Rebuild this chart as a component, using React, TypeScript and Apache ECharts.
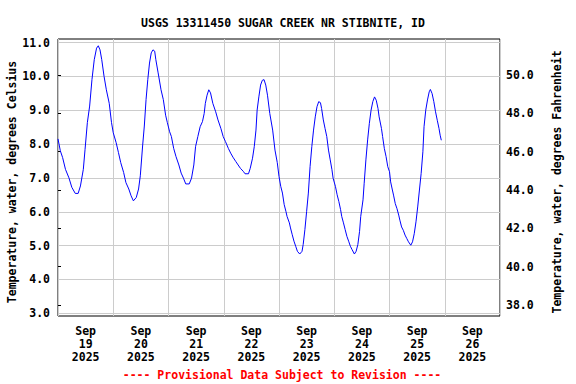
import React, { useEffect, useRef } from "react";
import * as echarts from "echarts";

const chartTitle = "USGS 13311450 SUGAR CREEK NR STIBNITE, ID";
const footerText = "---- Provisional Data Subject to Revision ----";
const leftAxisName = "Temperature, water, degrees Celsius";
const rightAxisName = "Temperature, water, degrees Fahrenheit";
const dayLabels = ["19", "20", "21", "22", "23", "24", "25", "26"];
const monthLabel = "Sep";
const yearLabel = "2025";
const celsiusTicks = [3, 11, 1];
const fahrenheitTicks = [38, 50, 2];

// hours of the day and water temperature (deg C), one pair of arrays per day
const sep19Hours = [0, 1, 2, 3.25, 4.75, 6, 7.5, 8.75, 9.75, 11, 11.75, 12.75, 13.75, 14.75, 15.75, 16.75, 17.5, 18.25, 19, 20, 21, 22.25, 23.25];
const sep19Temps = [8.15, 7.8, 7.6, 7.25, 7.0, 6.72, 6.54, 6.54, 6.76, 7.25, 7.84, 8.63, 9.12, 9.9, 10.49, 10.83, 10.9, 10.78, 10.49, 10.0, 9.6, 9.2, 8.63];
const sep20Hours = [0, 1.25, 2.25, 3.25, 4.5, 5.5, 6.75, 7.75, 8.75, 10, 11, 11.75, 12.75, 13.5, 14.25, 15, 15.75, 16.5, 17.25, 18, 18.5, 19.5, 20.75, 21.75, 22.75, 23.5];
const sep20Temps = [8.33, 8.04, 7.75, 7.45, 7.16, 6.86, 6.67, 6.47, 6.32, 6.42, 6.67, 7.06, 7.94, 8.53, 9.31, 9.9, 10.39, 10.69, 10.78, 10.74, 10.49, 10.1, 9.6, 9.31, 8.85, 8.63];
const sep21Hours = [0.5, 1.25, 2.25, 3.25, 4.5, 5.5, 6.5, 7.5, 9, 10, 11, 11.75, 12.75, 13.75, 14.75, 15.5, 16, 16.75, 17.5, 18.25, 19.25, 20.5, 21.5, 22.75, 23.75];
const sep21Temps = [8.36, 8.22, 7.87, 7.63, 7.38, 7.14, 6.99, 6.82, 6.82, 6.99, 7.38, 7.92, 8.22, 8.51, 8.66, 8.9, 9.2, 9.44, 9.6, 9.51, 9.2, 8.95, 8.71, 8.46, 8.22];
const sep22Hours = [0.75, 2, 3, 4, 5.25, 6.25, 7.25, 8.5, 9.25, 10.75, 11.5, 12.5, 13.25, 14, 14.5, 15.25, 16, 16.75, 17.5, 18.25, 19, 20, 21.25, 22.25, 23.25];
const sep22Temps = [8.07, 7.87, 7.73, 7.61, 7.48, 7.38, 7.28, 7.19, 7.12, 7.12, 7.28, 7.58, 7.92, 8.41, 9.0, 9.39, 9.74, 9.88, 9.9, 9.74, 9.44, 8.9, 8.41, 7.82, 7.45];
const sep23Hours = [0, 0.75, 1.5, 2.25, 3, 3.5, 4.5, 5, 5.75, 6.5, 7.25, 8, 9, 10, 10.5, 11.25, 12, 12.75, 13.5, 14.25, 15, 15.75, 16.5, 17.25, 18, 18.5, 19.25, 20, 20.75, 21.5, 22.25, 23, 23.5];
const sep23Temps = [7.04, 6.75, 6.55, 6.21, 6.01, 5.86, 5.67, 5.52, 5.32, 5.13, 4.98, 4.83, 4.75, 4.83, 5.03, 5.47, 6.01, 6.55, 7.33, 7.92, 8.41, 8.8, 9.1, 9.25, 9.22, 9.05, 8.71, 8.46, 8.22, 7.82, 7.53, 7.24, 6.99];
const sep24Hours = [0.5, 1.25, 2, 2.75, 3.25, 4, 4.75, 5.5, 6.25, 7, 7.75, 8.75, 9.5, 10.25, 11, 11.5, 12.5, 13, 13.75, 14.5, 15.25, 16, 16.75, 17.5, 18.25, 19, 19.5, 20.5, 21, 21.75, 22.5, 23.25];
const sep24Temps = [6.75, 6.5, 6.3, 6.06, 5.86, 5.67, 5.47, 5.27, 5.13, 4.98, 4.88, 4.75, 4.83, 5.03, 5.42, 5.86, 6.35, 6.84, 7.53, 8.12, 8.61, 9.0, 9.25, 9.39, 9.29, 9.05, 8.8, 8.46, 8.22, 7.87, 7.63, 7.33];
const sep25Hours = [0, 0.5, 1.25, 1.75, 2.5, 3.25, 4, 4.5, 5.25, 6, 6.75, 7.5, 8.25, 9.25, 10, 10.75, 11.5, 12.25, 13, 13.75, 14.5, 15, 15.75, 16.5, 17.25, 17.75, 18.5, 19.25, 20, 20.75, 21.5, 22, 22.5];
const sep25Temps = [7.18, 6.88, 6.64, 6.49, 6.24, 6.09, 5.9, 5.75, 5.55, 5.45, 5.31, 5.21, 5.11, 5.01, 5.11, 5.35, 5.7, 6.14, 6.64, 7.13, 7.77, 8.51, 9.0, 9.3, 9.54, 9.61, 9.49, 9.25, 8.95, 8.7, 8.46, 8.26, 8.11];

const dayHours = [sep19Hours, sep20Hours, sep21Hours, sep22Hours, sep23Hours, sep24Hours, sep25Hours];
const dayTemps = [sep19Temps, sep20Temps, sep21Temps, sep22Temps, sep23Temps, sep24Temps, sep25Temps];

const FONT = "'DejaVu Sans Mono', monospace";
const FS = 11.5;
const GRID_COLOR = "#cccccc";

export default function App() {
  const ref = useRef<HTMLDivElement>(null);

  useEffect(() => {
    if (!ref.current) return;
    const chart = echarts.init(ref.current, undefined, { renderer: "svg" });

    const lineData: [number, number][] = [];
    dayHours.forEach((hours, d) => {
      hours.forEach((h, i) => lineData.push([d * 24 + h, dayTemps[d][i]]));
    });

    const categories = dayLabels.map((d) => `${monthLabel}\n${d}\n${yearLabel}`);
    const textBase = { fontFamily: FONT, fontWeight: "bold" as const, fontSize: FS, color: "#000" };

    chart.setOption({
      animation: false,
      backgroundColor: "#fff",
      title: [
        { text: chartTitle, left: 278, top: 12, textAlign: "center", textStyle: { ...textBase } },
        { text: footerText, left: 277, top: 364, textAlign: "center", textStyle: { ...textBase, color: "#ff0000" } },
      ],
      grid: [
        { left: 58, right: 76, top: 39, bottom: 68, show: true, borderColor: "#000", borderWidth: 1, backgroundColor: "transparent" },
        { left: 58, right: 76, top: 42.5, bottom: 70.7 },
        { left: 58, right: 76, top: 75, bottom: 79 },
      ],
      xAxis: [
        {
          gridIndex: 0, type: "value", min: 0, max: dayLabels.length * 24, interval: 24,
          axisLine: { show: false }, axisTick: { show: false }, axisLabel: { show: false },
          splitLine: { show: true, lineStyle: { color: GRID_COLOR, width: 1 } },
        },
        {
          gridIndex: 0, type: "category", data: categories, boundaryGap: true, position: "bottom",
          axisLine: { show: false }, axisTick: { show: false }, splitLine: { show: false },
          axisLabel: { ...textBase, lineHeight: 13, margin: 8, interval: 0 },
        },
        { gridIndex: 1, type: "value", min: 0, max: 1, show: false },
        { gridIndex: 2, type: "value", min: 0, max: 1, show: false },
      ],
      yAxis: [
        { gridIndex: 0, type: "value", min: 2.92, max: 11.1, show: false },
        {
          gridIndex: 1, type: "value", min: celsiusTicks[0], max: celsiusTicks[1], interval: celsiusTicks[2],
          axisLine: { show: false }, axisTick: { show: false },
          axisLabel: { ...textBase, margin: 8, formatter: (v: number) => v.toFixed(1) },
          splitLine: { show: true, lineStyle: { color: GRID_COLOR, width: 1 } },
        },
        {
          gridIndex: 2, type: "value", position: "right", min: fahrenheitTicks[0], max: fahrenheitTicks[1], interval: fahrenheitTicks[2],
          axisLine: { show: false },
          axisTick: { show: true, length: 3, lineStyle: { color: "#000" } },
          axisLabel: { ...textBase, margin: 6, formatter: (v: number) => v.toFixed(1) },
          splitLine: { show: false },
        },
      ],
      graphic: [
        {
          type: "text", x: 12, y: 182, rotation: Math.PI / 2,
          style: { text: leftAxisName, font: `bold ${FS}px ${FONT}`, fill: "#000", align: "center", verticalAlign: "middle" },
        },
        {
          type: "text", x: 557, y: 182, rotation: Math.PI / 2,
          style: { text: rightAxisName, font: `bold ${FS}px ${FONT}`, fill: "#000", align: "center", verticalAlign: "middle" },
        },
      ],
      series: [
        {
          type: "line", xAxisIndex: 0, yAxisIndex: 0, data: lineData, showSymbol: false,
          lineStyle: { color: "#0000ff", width: 1 }, z: 5,
        },
      ],
    });

    return () => chart.dispose();
  }, []);

  return <div ref={ref} style={{ width: 576, height: 384, position: "absolute", left: 0, top: 0 }} />;
}
